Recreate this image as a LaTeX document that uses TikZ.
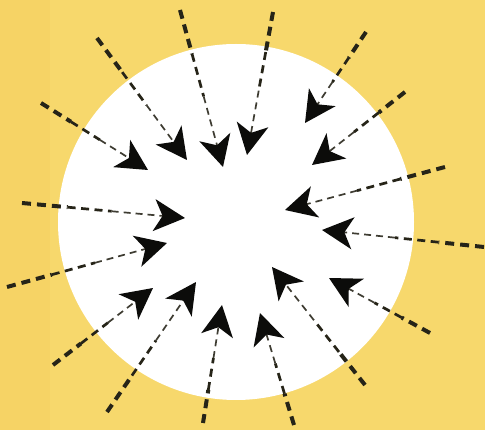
\documentclass[tikz,border=0pt]{standalone}
\usetikzlibrary{arrows.meta,calc}
\definecolor{bgyellow}{RGB}{247,216,108}
\definecolor{bgorange}{RGB}{246,211,101}
\definecolor{ink}{RGB}{38,36,24}
\definecolor{inkthin}{RGB}{62,60,50}
\definecolor{headink}{RGB}{12,12,10}
\begin{document}
\begin{tikzpicture}[x=1pt,y=-1pt,
  thickdash/.style={ink, line width=4pt, dash pattern=on 9pt off 6pt},
  middash/.style={ink, line width=2.7pt, dash pattern=on 8pt off 5.5pt},
  thindash/.style={inkthin, line width=1.7pt, dash pattern=on 7pt off 5pt},
  headtip/.style={-{Stealth[length=31pt,width=32pt,inset=8.5pt,fill=headink,color=headink]}}]
\fill[bgyellow] (0,0) rectangle (485,430);
\fill[bgorange] (0,0) rectangle (50,430);
\useasboundingbox (0,0) rectangle (485,430);
\fill[white] (236,222) circle[radius=178];
\foreach \i/\sx/\sy/\tx/\ty in {
  1/97/38/187/160,
  2/180/10/223/167,
  3/41/103/148/170,
  4/22/203/185/218,
  5/273/12/247/155,
  6/366/32/305/123,
  7/405/92/312/165,
  8/445/167/285/210,
  9/484/247/322/230,
  10/430/333/329/278,
  11/365/385/272/267,
  12/294/425/260/313,
  13/203/423/222/305,
  14/107/412/196/282,
  15/53/365/153/288,
  16/7/287/167/243} {
  \coordinate (s\i) at (\sx,\sy);
  \coordinate (t\i) at (\tx,\ty);
  \coordinate (a\i) at ($(s\i)!0.28!(t\i)$);
  \coordinate (b\i) at ($(s\i)!0.55!(t\i)$);
  \draw[thickdash] (s\i) -- (a\i);
  \draw[middash] (a\i) -- (b\i);
  \draw[thindash, headtip] (b\i) -- (t\i);
}
\end{tikzpicture}
\end{document}
